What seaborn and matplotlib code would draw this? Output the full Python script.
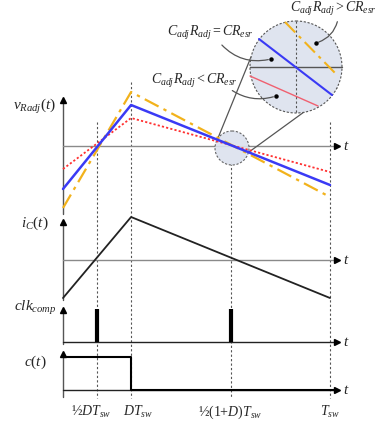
import numpy as np
import pandas as pd
import matplotlib
matplotlib.use("Agg")
import matplotlib.pyplot as plt
from matplotlib.patches import Circle, FancyArrowPatch
import seaborn as sns

sns.set_theme(style="white")
plt.rcParams['font.family'] = ['Liberation Serif', 'DejaVu Serif']
plt.rcParams['mathtext.fontset'] = 'custom'
plt.rcParams['mathtext.it'] = 'Liberation Serif:italic'
plt.rcParams['mathtext.rm'] = 'Liberation Serif'
plt.rcParams['mathtext.cal'] = 'Liberation Serif:italic'

# ---- data (time in units of T_sw, amplitudes normalized) ----
D = 0.255
t_wave = [0.0, D, 1.0]
v_equal = [-0.43, 0.41, -0.39]      # C_adj R_adj = C R_esr (blue)
v_less = [-0.23, 0.28, -0.26]       # C_adj R_adj < C R_esr (red)
v_greater = [-0.62, 0.54, -0.51]    # C_adj R_adj > C R_esr (orange)
i_c = [-0.38, 0.43, -0.38]
clk_times = [D / 2, (1 + D) / 2]
clk_height = 0.33
c_t = [0.0, D, D, 1.03]
c_val = [0.33, 0.33, 0.0, 0.0]
tick_times = [D / 2, D, (1 + D) / 2, 1.0]
tick_labels = ['½$DT_{sw}$', '$DT_{sw}$', '½$(1{+}D)T_{sw}$', '$T_{sw}$']
panel_labels = ['$v_{Radj}(t)$', '$i_C(t)$', '$clk_{comp}$', '$c(t)$']

# ---- layout (pixel canvas) ----
W, H = 377, 426
X0, XS = 63, 267
def px(t):
    return X0 + XS * np.asarray(t, dtype=float)

V_BASE, I_BASE, CLK_BASE, C_BASE = 146, 260, 342, 390
SCALE = 100

fig = plt.figure(figsize=(W / 100, H / 100), dpi=100)
ax = fig.add_axes([0, 0, 1, 1])
ax.set_xlim(0, W)
ax.set_ylim(H, 0)
ax.axis('off')

gray = '#8a8a8a'
dk = '#555555'

# vertical dashed guide lines
guides = [(D / 2, 122, 398), (D, 82, 398), ((1 + D) / 2, 163, 398), (1.0, 122, 398)]
for tt, y1, y2 in guides:
    ax.plot([px(tt), px(tt)], [y1, y2], color=dk, lw=0.8, ls=(0, (2, 2)), zorder=1)

# axes: y axis segments with arrows, x axes with arrows
y_axes = [(98, 214), (220, 300), (308, 344), (352, 397)]
for y1, y2 in y_axes:
    ax.plot([X0, X0], [y1 + 3, y2], color=dk, lw=1.0, zorder=2)
    ax.plot([X0], [y1 + 2], marker='^', ms=4, color='black', zorder=5)
for yb, col in [(V_BASE, gray), (I_BASE, gray), (CLK_BASE, '#222222'), (C_BASE, '#222222')]:
    ax.plot([X0, 336], [yb, yb], color=col, lw=1.0, zorder=2)
    ax.plot([337], [yb], marker='>', ms=4, color='black', zorder=5)
    ax.text(343, yb + 1, '$t$', fontsize=11, va='center', ha='left')

# v_Radj waveforms
df_v = pd.DataFrame({
    'x': np.concatenate([px(t_wave)] * 3),
    'y': np.concatenate([V_BASE - SCALE * np.array(v) for v in (v_equal, v_less, v_greater)]),
    'case': ['eq'] * 3 + ['lt'] * 3 + ['gt'] * 3,
})
sns.lineplot(data=df_v[df_v.case == 'gt'], x='x', y='y', ax=ax, color='#f2b21b', lw=1.6,
             linestyle=(0, (7, 2.5, 1.5, 2.5)), sort=False, estimator=None, zorder=3)
sns.lineplot(data=df_v[df_v.case == 'lt'], x='x', y='y', ax=ax, color='#ff3030', lw=1.3,
             linestyle=(0, (1.2, 1.2)), sort=False, estimator=None, zorder=3)
sns.lineplot(data=df_v[df_v.case == 'eq'], x='x', y='y', ax=ax, color='#3a3af5', lw=1.8,
             sort=False, estimator=None, zorder=4)

# i_C
df_i = pd.DataFrame({'x': px(t_wave), 'y': I_BASE - SCALE * np.array(i_c)})
sns.lineplot(data=df_i, x='x', y='y', ax=ax, color='#222222', lw=1.3, sort=False,
             estimator=None, zorder=3)

# clk pulses
for tc in clk_times:
    ax.plot([px(tc), px(tc)], [CLK_BASE, CLK_BASE - SCALE * clk_height], color='black',
            lw=3.0, solid_capstyle='butt', zorder=4)

# c(t)
df_c = pd.DataFrame({'x': px(c_t), 'y': C_BASE - SCALE * np.array(c_val)})
sns.lineplot(data=df_c, x='x', y='y', ax=ax, color='black', lw=1.5, sort=False,
             estimator=None, zorder=4)

# magnifier circles
small_c = (232, 148); small_r = 17
big_c = (296, 67); big_r = 46
ax.add_patch(Circle(small_c, small_r, facecolor='#dce2ee', edgecolor=dk, lw=0.8,
                    ls=(0, (2, 1.5)), alpha=0.9, zorder=2.5))
ax.plot([218, 251], [138, 57], color=dk, lw=0.9, zorder=2)
ax.plot([249, 337], [152, 88], color=dk, lw=0.9, zorder=2)
ax.add_patch(Circle(big_c, big_r, facecolor='#dfe4ef', edgecolor=dk, lw=0.8,
                    ls=(0, (2, 1.5)), zorder=6))
ax.plot([250, 342], [67, 67], color=dk, lw=1.0, zorder=7)
ax.plot([296, 296], [21, 113], color=dk, lw=0.8, ls=(0, (2, 2)), zorder=7)
ax.plot([259, 332], [39, 95], color='#3a3af5', lw=1.5, zorder=8)
ax.plot([250, 318], [76, 106], color='#f06070', lw=1.0, zorder=8)
ax.plot([285, 338], [22, 76], color='#f2b21b', lw=1.5, ls=(0, (7, 2.5, 1.5, 2.5)), zorder=8)

# labels with pointers
ax.text(333, 9, r'$C_{adj}R_{adj}>CR_{esr}$', fontsize=10, ha='center', va='center')
ax.text(210, 33, r'$C_{adj}R_{adj}=CR_{esr}$', fontsize=10, ha='center', va='center')
ax.text(194, 81, r'$C_{adj}R_{adj}<CR_{esr}$', fontsize=10, ha='center', va='center')
for (sx, sy), (ex, ey), rad in [((220, 43), (271, 59), 0.3), ((230, 89), (276, 96), 0.25),
                                ((338, 19), (316, 43), -0.3)]:
    ax.add_patch(FancyArrowPatch((sx, sy), (ex, ey), connectionstyle=f'arc3,rad={rad}',
                                 arrowstyle='-', color=dk, lw=0.9, zorder=9))
    ax.plot([ex], [ey], 'o', ms=2.2, color='black', zorder=9)

# panel labels
for lab, yy in zip(panel_labels, [107, 223, 308, 362]):
    ax.text(35, yy, lab, fontsize=11, ha='center', va='center')

# time tick labels
for tt, lab in zip(tick_times, tick_labels):
    xx = px(tt)
    if tt == D / 2:
        xx -= 6
    elif tt == D:
        xx += 7
    ax.text(xx, 412, lab, fontsize=10, ha='center', va='center')

fig.savefig('out.png', dpi=100)
